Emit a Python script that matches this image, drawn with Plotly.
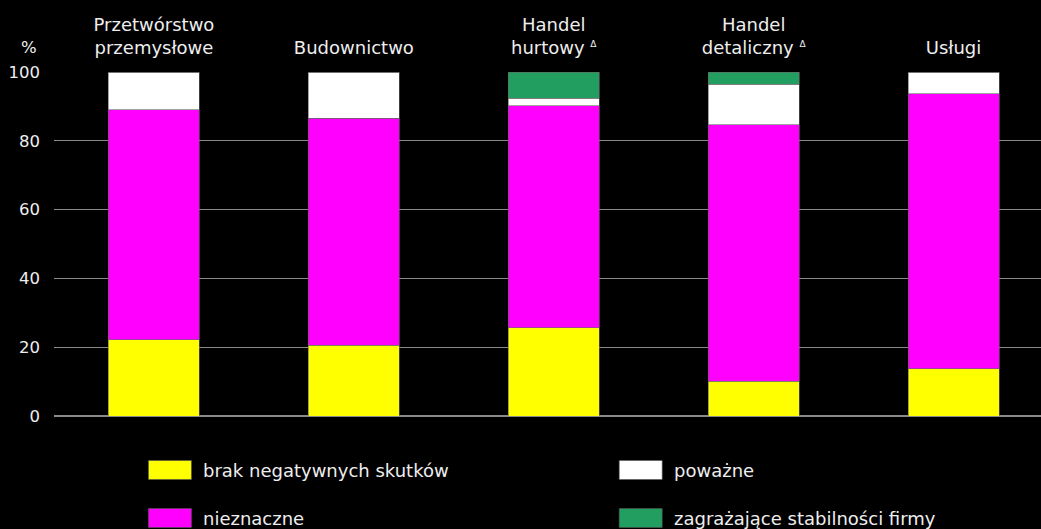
import plotly.graph_objects as go

DELTA = " <sup><span style='font-size:9px'>Δ</span></sup>"
categories = ["Przetwórstwo<br>przemysłowe", "Budownictwo", "Handel<br>hurtowy" + DELTA,
              "Handel<br>detaliczny" + DELTA, "Usługi"]
series_names = ["brak negatywnych skutków", "nieznaczne", "poważne", "zagrażające stabilności firmy"]
brak = [22.2, 20.5, 25.6, 10.1, 13.8]
nieznaczne = [66.9, 66.0, 64.6, 74.6, 79.9]
powazne = [10.9, 13.5, 2.2, 11.8, 6.3]
zagrazajace = [0.0, 0.0, 7.6, 3.5, 0.0]
y_ticks = [0, 20, 40, 60, 80, 100]

colors = ["#ffff00", "#ff00ff", "#ffffff", "#239e61"]
values = [brak, nieznaczne, powazne, zagrazajace]

FONT = "DejaVu Sans"
FS = 16.5
FL = 18
TXT = "#eeeeee"

fig = go.Figure()
x_idx = list(range(len(categories)))
for name, vals, col in zip(series_names, values, colors):
    fig.add_trace(go.Bar(x=x_idx, y=vals, name=name, marker_color=col,
                         marker_line_color="#666666", marker_line_width=0.6,
                         width=0.455, showlegend=False))

fig.update_layout(
    barmode="stack",
    width=1041, height=529,
    paper_bgcolor="black", plot_bgcolor="black",
    margin=dict(l=53.5, r=0, t=72, b=113),
    font=dict(family=FONT, size=FS, color=TXT),
    xaxis=dict(range=[-0.5, 4.4375], side="top", tickmode="array", tickvals=x_idx,
               ticktext=categories, showgrid=False, zeroline=False, showline=False,
               ticks="", tickfont=dict(size=FL, color=TXT), ticklabelstandoff=13),
    yaxis=dict(range=[0, 100], tickvals=y_ticks, showgrid=True, gridcolor="#8a8a8a",
               gridwidth=1.2, zeroline=True, zerolinecolor="#8a8a8a", zerolinewidth=1.5,
               ticks="", tickfont=dict(size=FS, color=TXT), ticklabelstandoff=13,
               showline=False),
)

fig.add_annotation(xref="paper", yref="paper", x=-0.015, y=1.0, yshift=25, text="%",
                   showarrow=False, xanchor="right", yanchor="middle",
                   font=dict(size=FS, color=TXT))

# manual legend (2 columns, column-major order)
leg_pos = [(148, 470), (148, 518), (619, 470), (619, 518)]
for (px, py), name, col in zip(leg_pos, series_names, colors):
    fig.add_shape(type="rect", xref="paper", yref="paper",
                  x0=(px - 53.5) / (1041 - 53.5), x1=(px + 43 - 53.5) / (1041 - 53.5),
                  y0=(416 - (py - 9.5)) / 344, y1=(416 - (py + 9.5)) / 344,
                  fillcolor=col, line=dict(color="#555555", width=0.6))
    fig.add_annotation(xref="paper", yref="paper",
                       x=(px + 53 - 53.5) / (1041 - 53.5), y=(416 - py) / 344,
                       text=name, showarrow=False, xanchor="left", yanchor="middle",
                       font=dict(size=FL, color=TXT))

fig.write_html("out.html", config={"displayModeBar": False},
               post_script="document.body.style.margin='0';document.body.style.background='black';")
